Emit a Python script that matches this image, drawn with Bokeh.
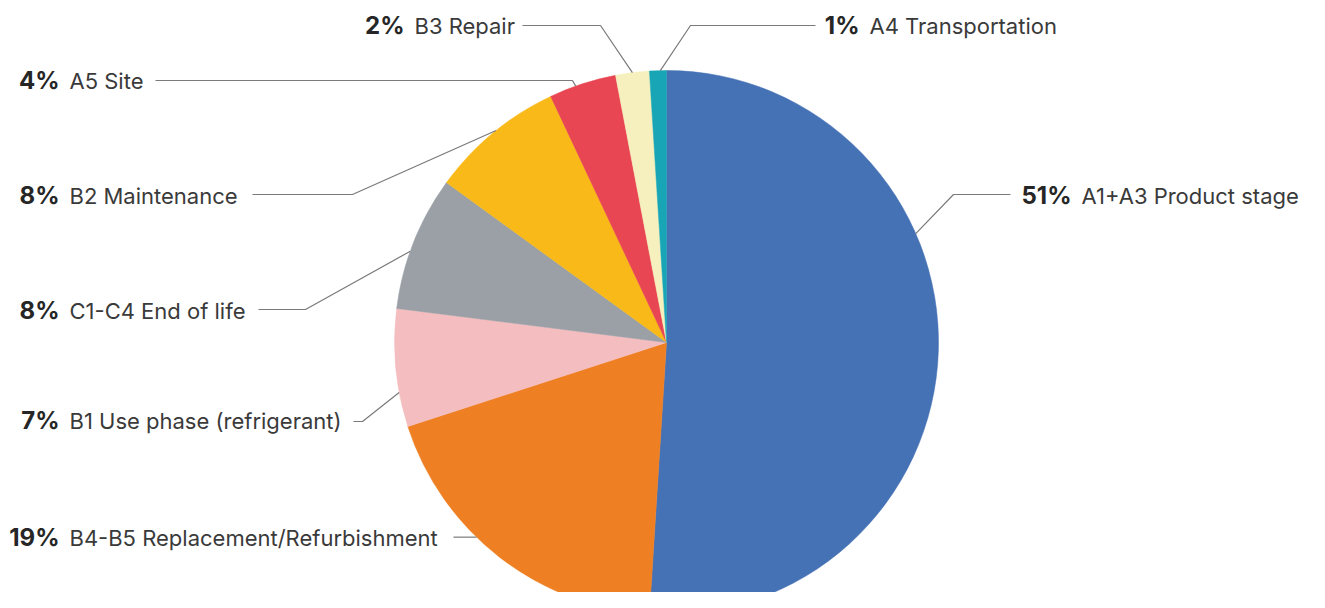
import math
from bokeh.plotting import figure
from bokeh.models import Range1d, ColumnDataSource
from bokeh.core.properties import value
from bokeh.embed import file_html
from bokeh.resources import INLINE

# ---- data ----
labels = ["A1+A3 Product stage", "B4-B5 Replacement/Refurbishment", "B1 Use phase (refrigerant)",
          "C1-C4 End of life", "B2 Maintenance", "A5 Site", "B3 Repair", "A4 Transportation"]
shares = [51, 19, 7, 8, 8, 4, 2, 1]
pct_text = ["51%", "19%", "7%", "8%", "8%", "4%", "2%", "1%"]
colors = ["#4571B5", "#EE7F22", "#F4BEC0", "#9AA0A6", "#F9B918", "#E84653", "#F5F0BD", "#18A6B6"]

# ---- layout (screen-pixel based, origin = figure top-left) ----
W, H = 1309, 592
CX, CY, R = 666, 342, 272          # pie centre / radius in px


def sy(y):  # screen y -> data y
    return H - y

# anchor angle (deg) on pie edge, knee point, end x of leader, text y, percent right edge
anchor_deg = [23.6, 225.7, 190.6, 160.4, 128.8, 109.5, 97.2, 91.3]
knee = [(953, 194), None, (362, 421), (305, 309), (352, 194), (572, 80), (600, 25), (690, 25)]
end_x = [1010, 453, 353, 258, 252, 155, 522, 815]
text_y = [195, 537, 420, 310, 195, 80, 25, 25]
pct_right = [1071, 59, 59, 59, 59, 59, 404, 859]

p = figure(width=W, height=H, output_backend="svg", toolbar_location=None,
           x_range=Range1d(0, W), y_range=Range1d(0, H), min_border=0)
p.axis.visible = False
p.grid.visible = False
p.outline_line_color = None
p.background_fill_color = "white"
p.border_fill_color = "white"

total = float(sum(shares))
starts, ends = [], []
cum = 0.0
for s in shares:
    a0 = math.pi / 2 - 2 * math.pi * (cum + s) / total
    a1 = math.pi / 2 - 2 * math.pi * cum / total
    starts.append(a0)
    ends.append(a1)
    cum += s

src = ColumnDataSource(dict(start=starts, end=ends, color=colors))
p.wedge(x=CX, y=sy(CY), radius=R, start_angle="start", end_angle="end",
        fill_color="color", line_color="color", line_width=0.5, source=src)

# leader lines
xs, ys = [], []
for i in range(len(labels)):
    a = math.radians(anchor_deg[i])
    ex, ey = CX + R * math.cos(a), CY - R * math.sin(a)
    if knee[i] is None:
        pts = [(ex, ey), (end_x[i], ey)]
    else:
        pts = [(ex, ey), knee[i], (end_x[i], knee[i][1])]
    xs.append([q[0] for q in pts])
    ys.append([sy(q[1]) for q in pts])
p.multi_line(xs=xs, ys=ys, line_color="#7a7a7a", line_width=1.2)

tsrc = ColumnDataSource(dict(
    px=pct_right, lx=[v + 10 for v in pct_right], y=[sy(v) for v in text_y],
    pct=pct_text, lab=labels))
p.text(x="px", y="y", text="pct", source=tsrc, text_font=value("Inter"), text_font_size="24px",
       text_font_style="bold", text_color="#262626", text_align="right", text_baseline="middle")
p.text(x="lx", y="y", text="lab", source=tsrc, text_font=value("Inter"), text_font_size="22px",
       text_color="#3a3a3a", text_align="left", text_baseline="middle")

open("out.html", "w").write(file_html(p, INLINE))
